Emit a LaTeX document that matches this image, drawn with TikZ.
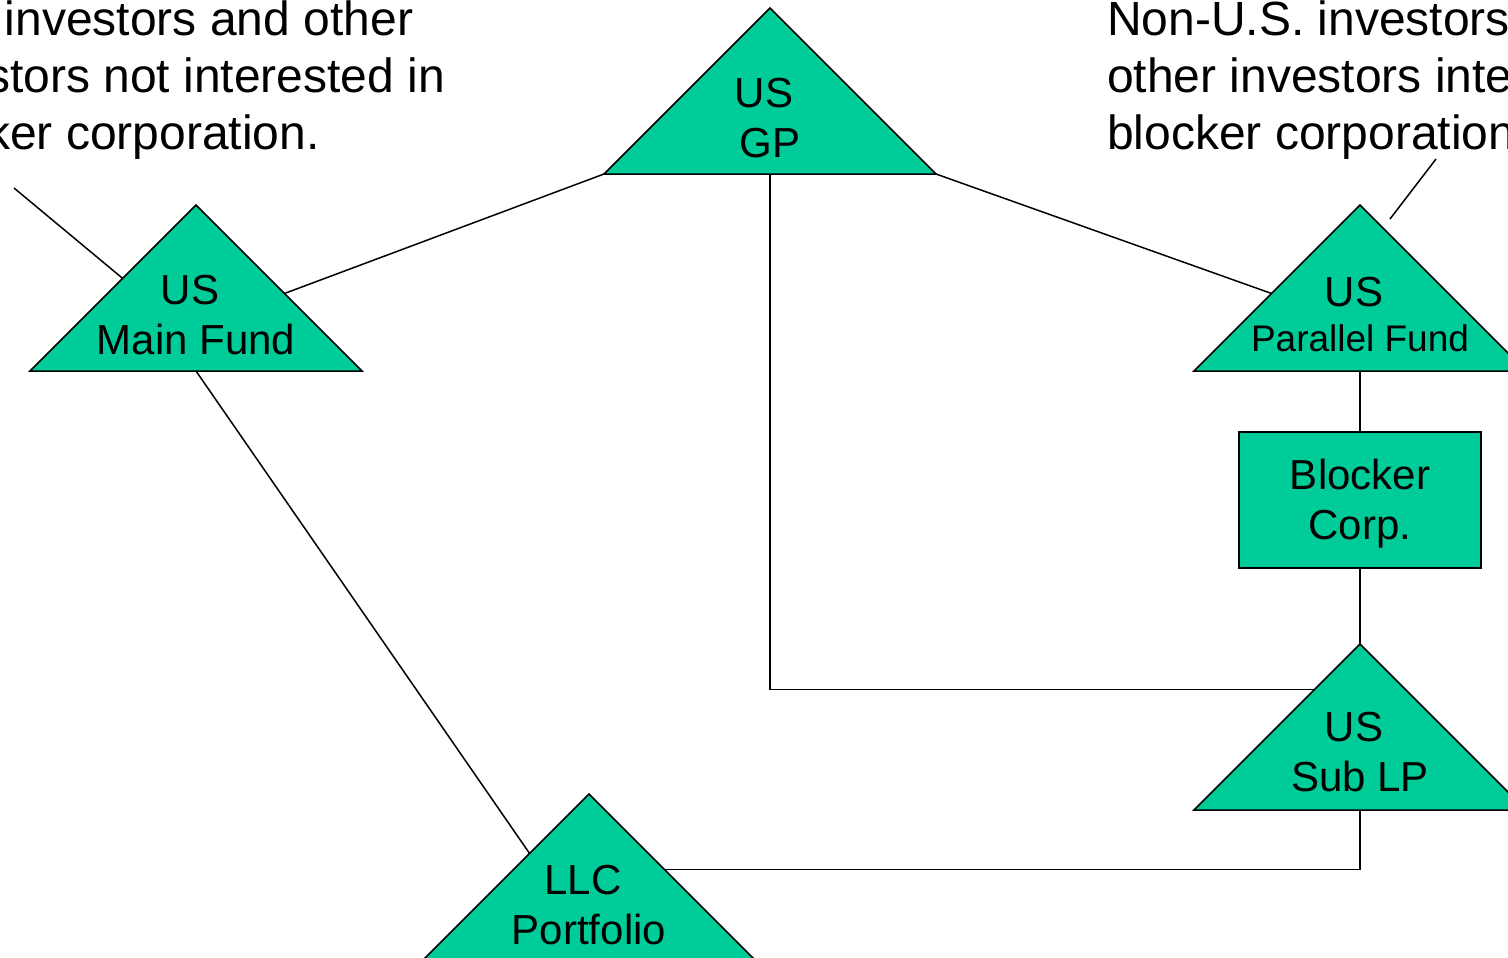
\documentclass[tikz,border=0pt]{standalone}
\usepackage{fontspec}
\setmainfont{Liberation Sans}
\usetikzlibrary{%
	positioning,
	calc,
	shapes.geometric
}
\definecolor{fundgreen}{RGB}{0,204,153}

\begin{document}
\begin{tikzpicture}[x=1pt,y=-1pt,
		fund/.style={draw,fill=fundgreen,shape=isosceles triangle,isosceles triangle apex angle=90,shape border rotate=90,minimum width=166pt,minimum height=166pt,inner sep=0pt,outer sep=0pt,line width=1.5pt},
		corp/.style={draw,fill=fundgreen,shape=rectangle,minimum width=242pt,minimum height=136pt,inner sep=0pt,outer sep=0pt,line width=1.5pt},
		lbl/.style={font=\fontsize{42}{50}\selectfont,align=center,inner sep=0pt},
		callout/.style={font=\fontsize{48}{57}\selectfont,align=left,inner sep=0pt},
		link/.style={line width=1.5pt}
	]
	\useasboundingbox (0,0) rectangle (1508,958);
	\clip (0,0) rectangle (1508,958);
	
		%funds
		\node (gp) [fund, anchor=apex] at (770,8) {};
		\node (main) [fund, below left=197pt and 574pt of gp.apex, anchor=apex] {};
		\node (par) [fund, below right=197pt and 590pt of gp.apex, anchor=apex] {};
		\node (blocker) [corp, below=61pt of par.lower side, anchor=north] {};
		\node (sublp) [fund, below=76pt of blocker.south, anchor=apex] {};
		\node (llc) [fund, below right=589pt and 393pt of main.apex, anchor=apex] {};
		
		\node (gp-lbl) [lbl] at ($(gp.apex)!0.66!(gp.lower side)$) {US\kern.28em\\GP};
		\node (main-lbl) [lbl] at ($(main.apex)!0.66!(main.lower side)$) {US\kern.28em\\Main Fund};
		\node (par-lbl) [lbl] at ($(par.apex)!0.66!(par.lower side)$) {US\kern.28em\\[-5pt]\fontsize{37}{46}\selectfont Parallel Fund};
		\node (blocker-lbl) [lbl, below=4pt of blocker.center, anchor=center] {Blocker\\Corp.};
		\node (sublp-lbl) [lbl] at ($(sublp.apex)!0.65!(sublp.lower side)$) {US\kern.28em\\Sub LP};
		\node (llc-lbl) [lbl] at ($(llc.apex)!0.67!(llc.lower side)$) {LLC\kern.28em\\Portfolio};
		
		%investors
		\node (us-inv) [callout, anchor=north west] at (-102,1) {U.S. investors and other\\investors not interested in\\blocker corporation.};
		\node (nonus-inv) [callout, anchor=north west] at (1107,1) {Non-U.S. investors and\\other investors interested in\\blocker corporation.};
		\coordinate (us-tip) at (14,188);
		\coordinate (nonus-tip) at (1436,159);
		\coordinate (nonus-end) at (1390,219);
		
		\draw [link] (gp.left corner) -- ($(main.apex)!0.533!(main.right corner)$);
		\draw [link] (gp.right corner) -- ($(par.apex)!0.533!(par.left corner)$);
		\draw [link] (gp.lower side) |- ($(sublp.apex)!0.273!(sublp.left corner)$);
		\draw [link] (main.lower side) -- ($(llc.apex)!0.358!(llc.left corner)$);
		\draw [link] ($(llc.apex)!0.455!(llc.right corner)$) -| (sublp.lower side);
		\draw [link] (par.lower side) -- (blocker);
		\draw [link] (blocker) -- (sublp.apex);
		\draw [link] (us-tip) -- ($(main.apex)!0.442!(main.left corner)$);
		\draw [link] (nonus-tip) -- (nonus-end);
		
\end{tikzpicture}
\end{document}
